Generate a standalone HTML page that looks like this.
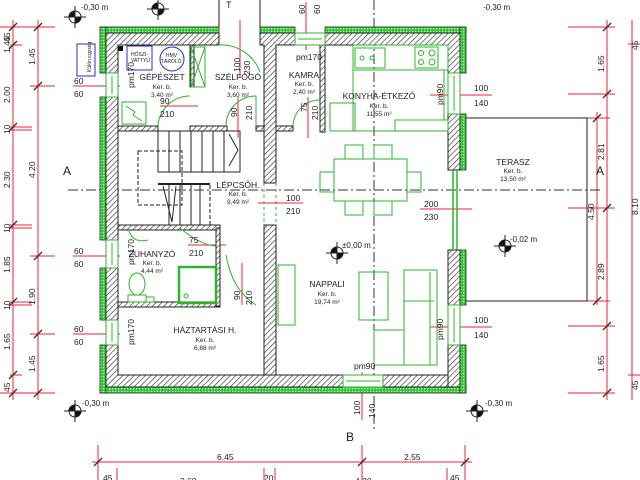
<!DOCTYPE html>
<html><head><meta charset="utf-8"><style>
html,body{margin:0;padding:0;background:#fff}
svg{display:block}
text{font-family:"Liberation Sans",sans-serif;fill:#222}
</style></head><body>
<svg width="640" height="480" viewBox="0 0 640 480" xmlns="http://www.w3.org/2000/svg">
<defs>
<pattern id="h" width="4" height="4" patternUnits="userSpaceOnUse" patternTransform="rotate(45)">
<rect width="4" height="4" fill="#fff"/><line x1="0" y1="0" x2="0" y2="4" stroke="#333" stroke-width="1.3"/></pattern>
<pattern id="g" width="3" height="3" patternUnits="userSpaceOnUse">
<rect width="3" height="3" fill="#2bd12b"/><rect x="1" y="1" width="1.2" height="1.2" fill="#fff"/></pattern>
</defs>
<g stroke="#e23" stroke-width="1" fill="none">
<line x1="13" y1="20" x2="13" y2="400"/><line x1="38" y1="20" x2="38" y2="400"/>
<g><line x1="0" y1="27" x2="55" y2="27"/><line x1="10" y1="45" x2="22" y2="45"/><line x1="30" y1="86" x2="55" y2="86"/>
<line x1="10" y1="127" x2="32" y2="127"/><line x1="10" y1="130" x2="32" y2="130"/><line x1="10" y1="225" x2="32" y2="225"/><line x1="10" y1="228" x2="32" y2="228"/>
<line x1="30" y1="256" x2="55" y2="256"/><line x1="10" y1="302" x2="32" y2="302"/><line x1="10" y1="305" x2="32" y2="305"/><line x1="30" y1="334" x2="55" y2="334"/>
<line x1="10" y1="375" x2="22" y2="375"/><line x1="0" y1="393" x2="55" y2="393"/></g>
<line x1="73" y1="86" x2="120" y2="86"/><line x1="73" y1="256" x2="120" y2="256"/><line x1="73" y1="334" x2="120" y2="334"/>
<line x1="607" y1="20" x2="607" y2="400"/><line x1="632" y1="20" x2="632" y2="400"/>
<line x1="597" y1="112" x2="597" y2="305"/>
<line x1="568" y1="27" x2="615" y2="27"/><line x1="568" y1="94" x2="615" y2="94"/><line x1="568" y1="208" x2="615" y2="208"/><line x1="568" y1="326" x2="615" y2="326"/><line x1="568" y1="393" x2="615" y2="393"/>
<line x1="628" y1="44" x2="640" y2="44"/><line x1="628" y1="375" x2="640" y2="375"/>
<line x1="538" y1="118" x2="610" y2="118"/><line x1="538" y1="301" x2="610" y2="301"/>
<line x1="92" y1="462" x2="472" y2="462"/>
<line x1="98" y1="445" x2="98" y2="480"/><line x1="362" y1="445" x2="362" y2="480"/><line x1="465" y1="445" x2="465" y2="480"/>
<line x1="117" y1="468" x2="117" y2="480"/><line x1="264" y1="468" x2="264" y2="480"/><line x1="275" y1="468" x2="275" y2="480"/><line x1="447" y1="468" x2="447" y2="480"/>
<line x1="240" y1="20" x2="240" y2="78"/><line x1="306" y1="2" x2="306" y2="50"/><line x1="430" y1="95" x2="492" y2="95"/><line x1="430" y1="327" x2="492" y2="327"/>
<line x1="420" y1="209" x2="472" y2="209"/><line x1="258" y1="203" x2="303" y2="203"/><line x1="160" y1="106" x2="198" y2="106"/>
<line x1="238" y1="97" x2="238" y2="138"/><line x1="308" y1="97" x2="308" y2="138"/><line x1="188" y1="245" x2="226" y2="245"/><line x1="242" y1="263" x2="242" y2="305"/>
<line x1="362" y1="372" x2="362" y2="420"/>
</g>
<g stroke="#333" stroke-width="1.3">
<line x1="9" y1="31" x2="17" y2="23"/><line x1="9" y1="49" x2="17" y2="41"/><line x1="9" y1="131" x2="17" y2="123"/><line x1="9" y1="229" x2="17" y2="221"/><line x1="9" y1="306" x2="17" y2="298"/><line x1="9" y1="379" x2="17" y2="371"/><line x1="9" y1="397" x2="17" y2="389"/>
<line x1="34" y1="31" x2="42" y2="23"/><line x1="34" y1="90" x2="42" y2="82"/><line x1="34" y1="260" x2="42" y2="252"/><line x1="34" y1="338" x2="42" y2="330"/><line x1="34" y1="397" x2="42" y2="389"/>
<line x1="603" y1="31" x2="611" y2="23"/><line x1="603" y1="98" x2="611" y2="90"/><line x1="603" y1="212" x2="611" y2="204"/><line x1="603" y1="330" x2="611" y2="322"/><line x1="603" y1="397" x2="611" y2="389"/>
<line x1="593" y1="122" x2="601" y2="114"/><line x1="593" y1="305" x2="601" y2="297"/>
<line x1="94" y1="466" x2="102" y2="458"/><line x1="358" y1="466" x2="366" y2="458"/><line x1="461" y1="466" x2="469" y2="458"/>
</g>
<g stroke="#333" stroke-width="1" stroke-dasharray="10,3,2,3" fill="none">
<line x1="68" y1="190" x2="603" y2="190"/><line x1="374" y1="0" x2="374" y2="430"/>
</g>
<path d="M459 118 H587 V301 H459" stroke="#222" fill="none"/>
<g fill="url(#g)" stroke="#222" stroke-width="0.8">
<rect x="100" y="27" width="119" height="6"/><rect x="260" y="27" width="35" height="6"/><rect x="325" y="27" width="141" height="6"/>
<rect x="100" y="387" width="366" height="6"/>
<rect x="100" y="27" width="6" height="46"/><rect x="100" y="97" width="6" height="143"/><rect x="100" y="268" width="6" height="52"/><rect x="100" y="345" width="6" height="48"/>
<rect x="460" y="27" width="6" height="46"/><rect x="460" y="114" width="6" height="56"/><rect x="460" y="250" width="6" height="55"/><rect x="460" y="345" width="6" height="48"/>
</g>
<g fill="url(#h)" stroke="#222" stroke-width="1">
<path d="M106 33 H219 V45 H118 V73 H106 Z"/><rect x="106" y="97" width="12" height="143"/><rect x="106" y="268" width="12" height="52"/>
<path d="M106 345 H118 V375 H343 V387 H106 Z"/><rect x="383" y="375" width="65" height="12"/>
<path d="M260 33 H295 V45 H276 V183 H264 V45 H260 Z"/>
<path d="M325 33 H460 V73 H448 V45 H325 Z"/>
<rect x="448" y="114" width="12" height="56"/>
<rect x="448" y="250" width="12" height="55"/><rect x="448" y="345" width="12" height="42"/>
<rect x="264" y="225" width="12" height="150"/>
<rect x="118" y="126" width="40" height="5"/><rect x="190" y="126" width="37" height="5"/><rect x="256" y="126" width="8" height="5"/>
<rect x="276" y="126" width="17" height="5"/><rect x="320" y="42" width="5" height="90"/>
<rect x="190" y="45" width="4" height="42"/>
<rect x="118" y="225" width="102" height="5"/><rect x="118" y="302" width="102" height="5"/><rect x="216" y="228" width="4" height="78"/>
</g>
<g stroke="#2bb52b" fill="#fff" stroke-width="1">
<rect x="106" y="73" width="12" height="24"/><line x1="112" y1="76" x2="112" y2="94"/>
<rect x="106" y="240" width="12" height="28"/><line x1="112" y1="243" x2="112" y2="265"/>
<rect x="106" y="320" width="12" height="25"/><line x1="112" y1="323" x2="112" y2="342"/>
<rect x="448" y="73" width="12" height="41"/><line x1="454" y1="76" x2="454" y2="111"/>
<rect x="448" y="305" width="12" height="40"/><line x1="454" y1="308" x2="454" y2="342"/>
<rect x="295" y="33" width="30" height="12"/><line x1="298" y1="39" x2="322" y2="39"/>
<rect x="343" y="375" width="40" height="12"/><line x1="346" y1="381" x2="380" y2="381"/>
<line x1="453" y1="170" x2="453" y2="250" stroke-width="1.5"/><line x1="457" y1="170" x2="457" y2="250" stroke-width="1.5"/>
</g>
<g stroke="#2bb52b" fill="none" stroke-width="1">
<path d="M219 45 A41 41 0 0 1 260 72"/><path d="M158 126 A32 32 0 0 1 190 96"/><path d="M226 126 A30 30 0 0 1 256 96 V126"/>
<path d="M293 126 A27 27 0 0 1 320 100"/><path d="M180 228 Q200 245 216 246"/><path d="M226 255 Q232 290 256 305"/>
<line x1="264" y1="183" x2="264" y2="225" stroke-dasharray="3,3"/><line x1="276" y1="183" x2="276" y2="225" stroke-dasharray="3,3"/>
<rect x="353" y="45" width="95" height="25"/><rect x="355" y="48" width="30" height="20"/><circle cx="362" cy="58" r="2"/><circle cx="372" cy="58" r="2"/>
<rect x="415" y="47" width="23" height="21"/><circle cx="421" cy="53" r="2.5"/><circle cx="432" cy="53" r="3"/><circle cx="421" cy="62" r="2.5"/><circle cx="432" cy="62" r="3"/>
<line x1="353" y1="70" x2="353" y2="131"/><line x1="353" y1="131" x2="448" y2="131"/>
<rect x="395" y="120" width="53" height="11"/><rect x="330" y="103" width="25" height="28"/>
<line x1="444" y1="70" x2="444" y2="120"/>
<rect x="334" y="159" width="73" height="42"/>
<rect x="345" y="145" width="18" height="14"/><rect x="374" y="145" width="18" height="14"/><rect x="345" y="201" width="18" height="14"/><rect x="374" y="201" width="18" height="14"/>
<rect x="320" y="172" width="14" height="20"/><rect x="407" y="172" width="14" height="20"/>
<rect x="278" y="265" width="17" height="60"/><rect x="359" y="272" width="29" height="48"/>
<path d="M404 270 H437 V365 H374 V330 H404 Z"/><line x1="404" y1="301" x2="434" y2="301"/><line x1="404" y1="330" x2="404" y2="365"/><line x1="430" y1="272" x2="430" y2="365"/>
<rect x="179" y="267" width="37" height="36" stroke-width="2.5"/><circle cx="186" cy="296" r="2"/>
<ellipse cx="137" cy="284" rx="8" ry="11"/><rect x="128" y="295" width="18" height="7"/><rect x="146" y="297" width="8" height="5"/>
<path d="M128 228 Q132 244 148 240"/>
<rect x="122" y="102" width="24" height="22"/><path d="M126 106 L135 112 L133 115 L142 121"/>
<rect x="191" y="47" width="14" height="40"/><path d="M191 47 L205 87 M205 47 L191 87"/>
</g>
<g stroke="#222" fill="none" stroke-width="1">
<rect x="158" y="131" width="82" height="41"/>
<line x1="169" y1="131" x2="169" y2="172"/><line x1="180" y1="131" x2="180" y2="172"/><line x1="191" y1="131" x2="191" y2="172"/><line x1="202" y1="131" x2="202" y2="172"/><line x1="213" y1="131" x2="213" y2="172"/><line x1="224" y1="131" x2="224" y2="172"/>
<path d="M229 134 L238 150 M229 166 L238 150"/>
<g stroke-dasharray="4,2"><rect x="138" y="151" width="44" height="54"/><line x1="210" y1="185" x2="210" y2="225"/></g>
<line x1="158" y1="184" x2="210" y2="184" stroke-width="2"/>
<line x1="169" y1="184" x2="169" y2="225"/><line x1="180" y1="184" x2="180" y2="225"/><line x1="191" y1="184" x2="191" y2="225"/><line x1="200" y1="184" x2="200" y2="225"/>
<path d="M163 186 L172 222 L176 186"/>
</g>
<g stroke="#23c" fill="none"><rect x="77" y="44" width="18" height="32"/><rect x="127" y="46" width="25" height="24"/><circle cx="172" cy="59" r="12"/></g>
<g font-size="5" fill="#23c"><text x="91" y="72" transform="rotate(-90 91 72)">Külön egység</text><text x="131" y="56">HŐSZI-</text><text x="131" y="62">VATTYÚ</text><text x="166" y="57">HMV</text><text x="161" y="63">TÁROLÓ</text></g>
<rect x="118" y="46" width="5" height="5" fill="#111"/>
<g stroke="#222" stroke-width="1">
<g transform="translate(75,17)"><circle r="6" fill="#fff"/><path d="M0 0 V-6 A6 6 0 0 0 -6 0 Z M0 0 V6 A6 6 0 0 0 6 0 Z" fill="#111"/><line x1="-11" x2="11"/><line y1="-11" y2="11"/></g>
<g transform="translate(158,9)"><circle r="6" fill="#fff"/><path d="M0 0 V-6 A6 6 0 0 0 -6 0 Z M0 0 V6 A6 6 0 0 0 6 0 Z" fill="#111"/><line x1="-11" x2="11"/><line y1="-11" y2="11"/></g>
<g transform="translate(75,411)"><circle r="6" fill="#fff"/><path d="M0 0 V-6 A6 6 0 0 0 -6 0 Z M0 0 V6 A6 6 0 0 0 6 0 Z" fill="#111"/><line x1="-11" x2="11"/><line y1="-11" y2="11"/></g>
<g transform="translate(477,411)"><circle r="6" fill="#fff"/><path d="M0 0 V-6 A6 6 0 0 0 -6 0 Z M0 0 V6 A6 6 0 0 0 6 0 Z" fill="#111"/><line x1="-11" x2="11"/><line y1="-11" y2="11"/></g>
<g transform="translate(337,253)"><circle r="6" fill="#fff"/><path d="M0 0 V-6 A6 6 0 0 0 -6 0 Z M0 0 V6 A6 6 0 0 0 6 0 Z" fill="#111"/><line x1="-11" x2="11"/><line y1="-11" y2="11"/></g>
<g transform="translate(505,246)"><circle r="6" fill="#fff"/><path d="M0 0 V-6 A6 6 0 0 0 -6 0 Z M0 0 V6 A6 6 0 0 0 6 0 Z" fill="#111"/><line x1="-11" x2="11"/><line y1="-11" y2="11"/></g>
</g>
<line x1="219" y1="0" x2="219" y2="27" stroke="#222"/><line x1="260" y1="0" x2="260" y2="27" stroke="#222"/>
<g font-size="8"><text x="81" y="10">-0,30 m</text><text x="483" y="10">-0,30 m</text><text x="82" y="406">-0,30 m</text><text x="485" y="406">-0,30 m</text><text x="342" y="248">±0,00 m</text><text x="510" y="242">-0,02 m</text></g>
<g font-size="12"><text x="63" y="175">A</text><text x="596" y="175">A</text><text x="346" y="441">B</text></g>
<text x="226" y="8" font-size="9">T</text>
<g font-size="8.5" text-anchor="middle">
<text x="162" y="80">GÉPÉSZET</text><text x="238" y="80">SZÉLFOGÓ</text><text x="304" y="78">KAMRA</text><text x="379" y="99">KONYHA-ÉTKEZŐ</text>
<text x="513" y="165">TERASZ</text><text x="238" y="188">LÉPCSŐH.</text><text x="152" y="257">ZUHANYZÓ</text><text x="327" y="287">NAPPALI</text><text x="205" y="333">HÁZTARTÁSI H.</text>
</g>
<g font-size="6.5" text-anchor="middle" fill="#333">
<text x="162" y="89">Ker. b.</text><text x="162" y="97">3,40 m²</text><text x="238" y="89">Ker. b.</text><text x="238" y="97">3,60 m²</text>
<text x="304" y="86">Ker. b.</text><text x="304" y="94">2,40 m²</text><text x="379" y="108">Ker. b.</text><text x="379" y="116">11,55 m²</text>
<text x="513" y="173">Ker. b.</text><text x="513" y="181">13,50 m²</text><text x="238" y="196">Ker. b.</text><text x="238" y="204">9,49 m²</text>
<text x="152" y="265">Ker. b.</text><text x="152" y="273">4,44 m²</text><text x="327" y="296">Ker. b.</text><text x="327" y="304">19,74 m²</text>
<text x="205" y="342">Ker. b.</text><text x="205" y="350">6,88 m²</text>
</g>
<g font-size="8.5">
<text x="74" y="84">60</text><text x="74" y="97">60</text><text x="74" y="254">60</text><text x="74" y="267">60</text><text x="74" y="332">60</text><text x="74" y="345">60</text>
<text x="160" y="104">90</text><text x="160" y="117">210</text><text x="286" y="201">100</text><text x="286" y="214">210</text>
<text x="424" y="207">200</text><text x="424" y="220">230</text><text x="474" y="91">100</text><text x="474" y="106">140</text><text x="474" y="323">100</text><text x="474" y="338">140</text>
<text x="189" y="243">75</text><text x="189" y="256">210</text>
<text x="217" y="460">6.45</text><text x="404" y="460">2.55</text>
</g>
<g font-size="8.5">
<text transform="translate(10,53) rotate(-90)">1.45</text><text transform="translate(10,42) rotate(-90)">45</text>
<text transform="translate(10,103) rotate(-90)">2.00</text><text transform="translate(10,134) rotate(-90)">10</text><text transform="translate(10,188) rotate(-90)">2.30</text>
<text transform="translate(10,233) rotate(-90)">10</text><text transform="translate(10,273) rotate(-90)">1.85</text><text transform="translate(10,310) rotate(-90)">10</text>
<text transform="translate(10,350) rotate(-90)">1.65</text><text transform="translate(10,392) rotate(-90)">45</text>
<text transform="translate(35,65) rotate(-90)">1.45</text><text transform="translate(35,178) rotate(-90)">4.20</text><text transform="translate(35,305) rotate(-90)">1.90</text><text transform="translate(35,372) rotate(-90)">1.45</text>
<text transform="translate(604,72) rotate(-90)">1.65</text><text transform="translate(604,160) rotate(-90)">2.81</text><text transform="translate(604,280) rotate(-90)">2.89</text><text transform="translate(604,372) rotate(-90)">1.65</text>
<text transform="translate(594,220) rotate(-90)">4.50</text><text transform="translate(638,215) rotate(-90)">8.10</text>
<text transform="translate(638,50) rotate(-90)">45</text><text transform="translate(638,390) rotate(-90)">45</text>
<text transform="translate(134,88) rotate(-90)">pm170</text><text transform="translate(134,265) rotate(-90)">pm170</text><text transform="translate(134,345) rotate(-90)">pm170</text>
<text x="296" y="60">pm170</text><text transform="translate(443,105) rotate(-90)">pm90</text><text transform="translate(443,340) rotate(-90)">pm90</text><text x="354" y="369">pm90</text>
<text transform="translate(240,72) rotate(-90)">100</text><text transform="translate(250,75) rotate(-90)">230</text>
<text transform="translate(237,117) rotate(-90)">90</text><text transform="translate(252,120) rotate(-90)">210</text>
<text transform="translate(307,112) rotate(-90)">75</text><text transform="translate(318,120) rotate(-90)">210</text>
<text transform="translate(305,14) rotate(-90)">60</text><text transform="translate(320,14) rotate(-90)">60</text>
<text transform="translate(240,300) rotate(-90)">90</text><text transform="translate(252,305) rotate(-90)">210</text>
<text transform="translate(360,415) rotate(-90)">100</text><text transform="translate(375,418) rotate(-90)">140</text>
</g>
<g font-size="8.5"><text x="103" y="481">45</text><text x="180" y="484">3.60</text><text x="264" y="481">20</text><text x="355" y="484">4.20</text><text x="450" y="481">45</text></g>
</svg>
</body></html>
